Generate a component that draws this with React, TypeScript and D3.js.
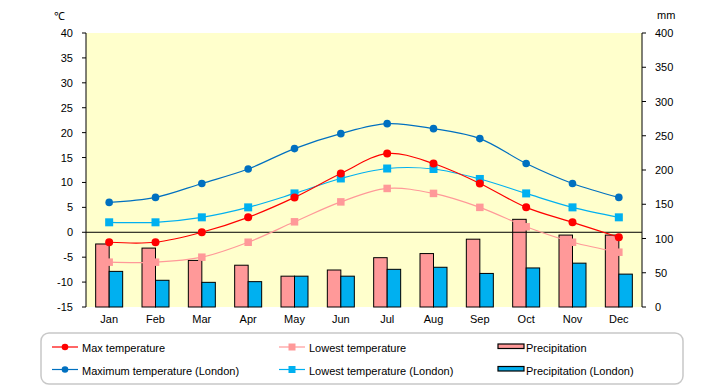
import React from 'react';
import {scaleBand,scaleLinear,line,curveCatmullRom} from 'd3';

const months=["Jan","Feb","Mar","Apr","May","Jun","Jul","Aug","Sep","Oct","Nov","Dec"];
const maxTemp=[-2,-2,0,3,7,11.8,15.8,13.8,9.8,5,2,-1];
const lowTemp=[-6,-6,-5,-2,2.1,6.1,8.8,7.8,5,1.1,-2,-4];
const londonMax=[6,7,9.8,12.7,16.8,19.8,21.8,20.8,18.8,13.8,9.8,7];
const londonLow=[2,2,3,5,7.8,10.8,12.8,12.7,10.7,7.8,5,3];
const precip=[92,86,68,61,45,54,72,78,99,128,105,105];
const londonPrecip=[52,39,36,37,45,45,55,58,49,57,64,48];
const tempTicks=[40,35,30,25,20,15,10,5,0,-5,-10,-15];
const mmTicks=[400,350,300,250,200,150,100,50,0];

const font="'Liberation Sans',Arial,sans-serif";

export default function App(){
  const left=86,right=642,top=33,bottom=307;
  const x=scaleBand().domain(months).range([left,right]);
  const yT=scaleLinear().domain([-15,40]).range([bottom,top]);
  const yP=scaleLinear().domain([0,400]).range([bottom,top]);
  const bw=13.5;
  const cx=(i:number)=>(x(months[i]) as number)+x.bandwidth()/2;
  const mk=(vals:number[])=>line<number>().x((d,i)=>cx(i)).y(d=>yT(d)).curve(curveCatmullRom.alpha(0.5))(vals) as string;

  const series=[
    {vals:lowTemp,color:"#FF9999",shape:"sq",size:7.5},
    {vals:londonLow,color:"#00B0F0",shape:"sq",size:8},
    {vals:maxTemp,color:"#FF0000",shape:"c",size:4},
    {vals:londonMax,color:"#0070C0",shape:"c",size:3.8},
  ];

  const legend=[
    {label:"Max temperature",color:"#FF0000",kind:"c",col:0,row:0},
    {label:"Lowest temperature",color:"#FF9999",kind:"sq",col:1,row:0},
    {label:"Precipitation",color:"#FF9999",kind:"bar",col:2,row:0},
    {label:"Maximum temperature (London)",color:"#0070C0",kind:"c",col:0,row:1},
    {label:"Lowest temperature (London)",color:"#00B0F0",kind:"sq",col:1,row:1},
    {label:"Precipitation (London)",color:"#00B0F0",kind:"bar",col:2,row:1},
  ];
  const colX=[52,279,498];
  const rowY=[347,369.5];

  return (
    <svg width={720} height={385} style={{position:"absolute",left:0,top:0,background:"#fff"}} fontFamily={font} fontSize={11}>
      <rect x={left} y={top} width={right-left} height={bottom-top} fill="#FFFFCC"/>
      {/* bars */}
      {precip.map((v,i)=>(
        <rect key={"p"+i} x={cx(i)-bw} y={yP(v)} width={bw} height={bottom-yP(v)} fill="#FF9999" stroke="#000" strokeWidth={1}/>
      ))}
      {londonPrecip.map((v,i)=>(
        <rect key={"l"+i} x={cx(i)} y={yP(v)} width={bw} height={bottom-yP(v)} fill="#00B0F0" stroke="#000" strokeWidth={1}/>
      ))}
      <line x1={left} x2={right} y1={yT(0)} y2={yT(0)} stroke="#000"/>
      {/* lines */}
      {series.map((s,k)=>(
        <g key={k}>
          <path d={mk(s.vals)} fill="none" stroke={s.color} strokeWidth={1.2}/>
          {s.vals.map((v,i)=>s.shape==="c"
            ?<circle key={i} cx={cx(i)} cy={yT(v)} r={s.size} fill={s.color}/>
            :<rect key={i} x={cx(i)-s.size/2} y={yT(v)-s.size/2} width={s.size} height={s.size} fill={s.color}/>)}
        </g>
      ))}
      {/* axes */}
      <line x1={left} x2={left} y1={top} y2={bottom} stroke="#000"/>
      <line x1={right} x2={right} y1={top} y2={bottom} stroke="#000"/>
      {tempTicks.map(t=>(
        <g key={"t"+t}>
          <line x1={left-4} x2={left} y1={yT(t)} y2={yT(t)} stroke="#000"/>
          <text x={73} y={yT(t)+4} textAnchor="end">{t}</text>
        </g>
      ))}
      {mmTicks.map(t=>(
        <g key={"m"+t}>
          <line x1={right} x2={right+4} y1={yP(t)} y2={yP(t)} stroke="#000"/>
          <text x={655} y={yP(t)+4}>{t}</text>
        </g>
      ))}
      {months.map((m,i)=>(
        <text key={m} x={cx(i)} y={323} textAnchor="middle">{m}</text>
      ))}
      <text x={54} y={20}>℃</text>
      <text x={657} y={19}>mm</text>
      {/* legend */}
      <rect x={41} y={333} width={642} height={51} rx={8} fill="#fff" stroke="#c8c8c8" strokeWidth={1.5}/>
      {legend.map((d,i)=>{
        const lx=colX[d.col],ly=rowY[d.row];
        return (
          <g key={i}>
            {d.kind==="bar"
              ?<rect x={lx} y={ly-3} width={26} height={4.5} fill={d.color} stroke="#000" strokeWidth={1.2}/>
              :<line x1={lx} x2={lx+26} y1={ly} y2={ly} stroke={d.color} strokeWidth={1.2}/>}
            {d.kind==="c"&&<circle cx={lx+13} cy={ly} r={3.3} fill={d.color}/>}
            {d.kind==="sq"&&<rect x={lx+9.5} y={ly-3.5} width={7} height={7} fill={d.color}/>}
            <text x={lx+(d.kind==="bar"?28:30)} y={ly+5}>{d.label}</text>
          </g>
        );
      })}
    </svg>
  );
}
